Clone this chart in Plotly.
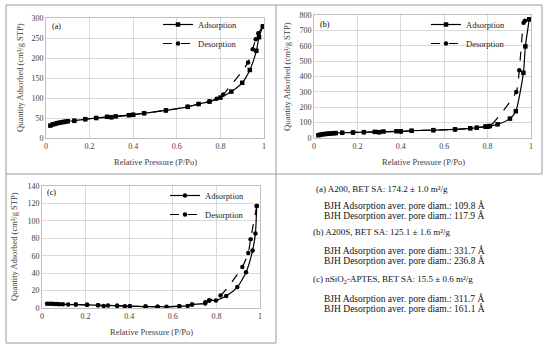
import plotly.graph_objects as go

W, H = 550, 350

# ---------------- data ----------------
# (a) A200
a_ads_x = [0.02, 0.03, 0.04, 0.05, 0.06, 0.07, 0.08, 0.09, 0.10, 0.13, 0.18, 0.23, 0.28, 0.30, 0.32,
           0.38, 0.40, 0.45, 0.55, 0.65, 0.70, 0.75, 0.80, 0.85, 0.90, 0.935, 0.965, 0.977, 0.995]
a_ads_y = [31, 34, 35, 37, 38, 39, 40, 41, 42, 43, 47, 50, 53, 52, 54,
           57, 58, 62, 69, 78, 85, 91, 101, 116, 138, 170, 218, 252, 279]
a_des_x = [0.995, 0.974, 0.962, 0.948, 0.927, 0.813, 0.783, 0.75, 0.70, 0.65, 0.55, 0.45, 0.40,
           0.30, 0.23, 0.18, 0.13]
a_des_y = [279, 262, 247, 222, 189, 109, 98, 91, 85, 78, 69, 62, 58,
           52, 50, 47, 43]

# (b) A200S
b_ads_x = [0.02, 0.03, 0.04, 0.05, 0.06, 0.07, 0.08, 0.09, 0.10, 0.13, 0.18, 0.23, 0.28, 0.30, 0.32,
           0.38, 0.40, 0.45, 0.55, 0.65, 0.72, 0.75, 0.79, 0.80, 0.81, 0.846, 0.903, 0.93, 0.965,
           0.974, 0.992]
b_ads_y = [18, 22, 24, 26, 27, 29, 30, 31, 32, 34, 36, 38, 40, 38, 42,
           44, 43, 47, 51, 56, 63, 67, 74, 74, 78, 89, 126, 174, 424,
           596, 772]
b_des_x = [0.992, 0.972, 0.966, 0.946, 0.932, 0.81, 0.79, 0.75, 0.72, 0.65, 0.55, 0.45, 0.40,
           0.30, 0.23, 0.18, 0.13]
b_des_y = [772, 763, 750, 441, 300, 76, 74, 67, 63, 56, 51, 47, 43,
           38, 38, 36, 34]

# (c) nSiO2-APTES
c_ads_x = [0.023, 0.035, 0.046, 0.058, 0.069, 0.081, 0.096, 0.12, 0.155, 0.207, 0.257, 0.283,
           0.303, 0.345, 0.38, 0.403, 0.475, 0.53, 0.571, 0.63, 0.668, 0.688, 0.749, 0.767,
           0.798, 0.845, 0.896, 0.936, 0.966, 0.979, 0.985]
c_ads_y = [4.9, 5.0, 4.8, 4.7, 4.5, 4.3, 4.2, 4.0, 3.9, 3.6, 3.2, 2.4,
           3.0, 2.6, 2.0, 2.1, 1.6, 1.5, 1.4, 2.0, 2.4, 4.0, 5.3, 8.7,
           8.7, 13.7, 24, 41, 66, 85.6, 117]
c_des_x = [0.985, 0.957, 0.946, 0.919, 0.819, 0.767, 0.749, 0.688, 0.63, 0.53, 0.475, 0.403,
           0.345, 0.257, 0.207, 0.155]
c_des_y = [117, 79, 63, 47, 14.4, 8.7, 6.5, 4.0, 2.0, 1.5, 1.6, 2.1,
           2.6, 3.2, 3.6, 3.9]

x_ticks = [0, 0.2, 0.4, 0.6, 0.8, 1]
x_title = "Relative Pressure (P/Po)"
y_title = "Quantity Adsorbed (cm³/g STP)"

info_lines = [
    ("(a) A200, BET SA: 174.2 ± 1.0 m²/g", 314, 189, 9),
    ("BJH Adsorption aver. pore diam.: 109.8 Å", 322, 205, 9.5),
    ("BJH Desorption aver. pore diam.: 117.9 Å", 322, 215, 9.5),
    ("(b) A200S, BET SA: 125.1 ± 1.6 m²/g", 311, 232, 9),
    ("BJH Adsorption aver. pore diam.: 331.7 Å", 322, 250, 9.5),
    ("BJH Desorption aver. pore diam.: 236.8 Å", 322, 260, 9.5),
    ("(c) nSiO<sub>2</sub>-APTES, BET SA: 15.5 ± 0.6 m²/g", 311, 279, 9),
    ("BJH Adsorption aver. pore diam.: 311.7 Å", 322, 298, 9.5),
    ("BJH Desorption aver. pore diam.: 161.1 Å", 322, 308, 9.5),
]

FONT = "Liberation Serif"
px = lambda v: v / W
py = lambda v: 1 - v / H

fig = go.Figure()

def add_pair(ax, ay, dx, dy, xa, ya, leg, ads_sym):
    fig.add_trace(go.Scatter(x=ax, y=ay, mode="lines+markers", name="Adsorption",
                             line=dict(color="black", width=1.2, shape="spline", smoothing=0.6),
                             marker=dict(symbol=ads_sym, size=4.5, color="black"),
                             xaxis=xa, yaxis=ya, legend=leg))
    fig.add_trace(go.Scatter(x=dx, y=dy, mode="lines+markers", name="Desorption",
                             line=dict(color="black", width=1.2, dash="dash", shape="spline", smoothing=0.6),
                             marker=dict(symbol="circle", size=4.5, color="black"),
                             xaxis=xa, yaxis=ya, legend=leg))

add_pair(a_ads_x, a_ads_y, a_des_x, a_des_y, "x", "y", "legend", "square")
add_pair(b_ads_x, b_ads_y, b_des_x, b_des_y, "x2", "y2", "legend2", "square")
add_pair(c_ads_x, c_ads_y, c_des_x, c_des_y, "x3", "y3", "legend3", "circle")

tickfont = dict(family=FONT, size=8, color="#404040")
titlefont = dict(family=FONT, size=8.5, color="#404040")

def xax(dom, anchor):
    return dict(domain=dom, anchor=anchor, range=[0, 1], tickvals=x_ticks,
                showgrid=True, gridcolor="#d9d9d9", gridwidth=1, zeroline=False,
                showline=True, linecolor="#bfbfbf", mirror=True, ticks="",
                tickfont=tickfont, automargin=False)

def yax(dom, anchor, rng, dt):
    return dict(domain=dom, anchor=anchor, range=rng, dtick=dt,
                showgrid=True, gridcolor="#d9d9d9", gridwidth=1, zeroline=False,
                showline=True, linecolor="#bfbfbf", mirror=True, ticks="",
                tickfont=tickfont, automargin=False)

legfont = dict(family=FONT, size=8.5, color="#222222")
def leg(xl, ytop):
    return dict(x=px(xl), y=py(ytop), xanchor="left", yanchor="top",
                bgcolor="rgba(255,255,255,0)", font=legfont, itemwidth=30,
                tracegroupgap=0)

fig.update_layout(
    width=W, height=H, margin=dict(l=0, r=0, t=0, b=0),
    paper_bgcolor="white", plot_bgcolor="white",
    font=dict(family=FONT, color="#222222"),
    xaxis=xax([px(46), px(264)], "y"),
    yaxis=yax([py(138), py(18)], "x", [0, 300], 50),
    xaxis2=xax([px(314), px(531)], "y2"),
    yaxis2=yax([py(138), py(15)], "x2", [0, 800], 100),
    xaxis3=xax([px(42), px(260)], "y3"),
    yaxis3=yax([py(308), py(186)], "x3", [0, 140], 20),
    legend=leg(158, 10),
    legend2=leg(426, 10),
    legend3=leg(165, 181),
    showlegend=True,
)

# axis titles
for x, y in [(155, 162), (423, 162), (151, 332)]:
    fig.add_annotation(text=x_title, x=px(x), y=py(y), xref="paper", yref="paper",
                       xanchor="center", yanchor="middle", showarrow=False, font=titlefont)
for x, y in [(20, 78), (287, 77), (14, 247)]:
    fig.add_annotation(text=y_title, x=px(x), y=py(y), xref="paper", yref="paper",
                       xanchor="center", yanchor="middle", showarrow=False, font=titlefont,
                       textangle=-90)

# panel labels
for txt, x, y in [("(a)", 56, 26), ("(b)", 325, 25), ("(c)", 51, 193)]:
    fig.add_annotation(text=txt, x=px(x), y=py(y), xref="paper", yref="paper",
                       xanchor="center", yanchor="middle", showarrow=False,
                       font=dict(family=FONT, size=8, color="black"))

# info text
for txt, x, y, s in info_lines:
    fig.add_annotation(text=txt, x=px(x), y=py(y), xref="paper", yref="paper",
                       xanchor="left", yanchor="middle", showarrow=False,
                       font=dict(family=FONT, size=s, color="#111111"))

# panel borders
border = dict(color="#9a9a9a", width=1)
for x0, y0, x1, y1 in [(6, 5, 542, 5), (6, 5, 6, 343), (542, 5, 542, 174),
                       (276, 5, 276, 343), (6, 174, 542, 174), (6, 343, 276, 343)]:
    fig.add_shape(type="line", xref="paper", yref="paper",
                  x0=px(x0), y0=py(y0), x1=px(x1), y1=py(y1), line=border)

fig.write_html("out.html", config={"displayModeBar": False},
               post_script="document.body.style.margin='0';")
